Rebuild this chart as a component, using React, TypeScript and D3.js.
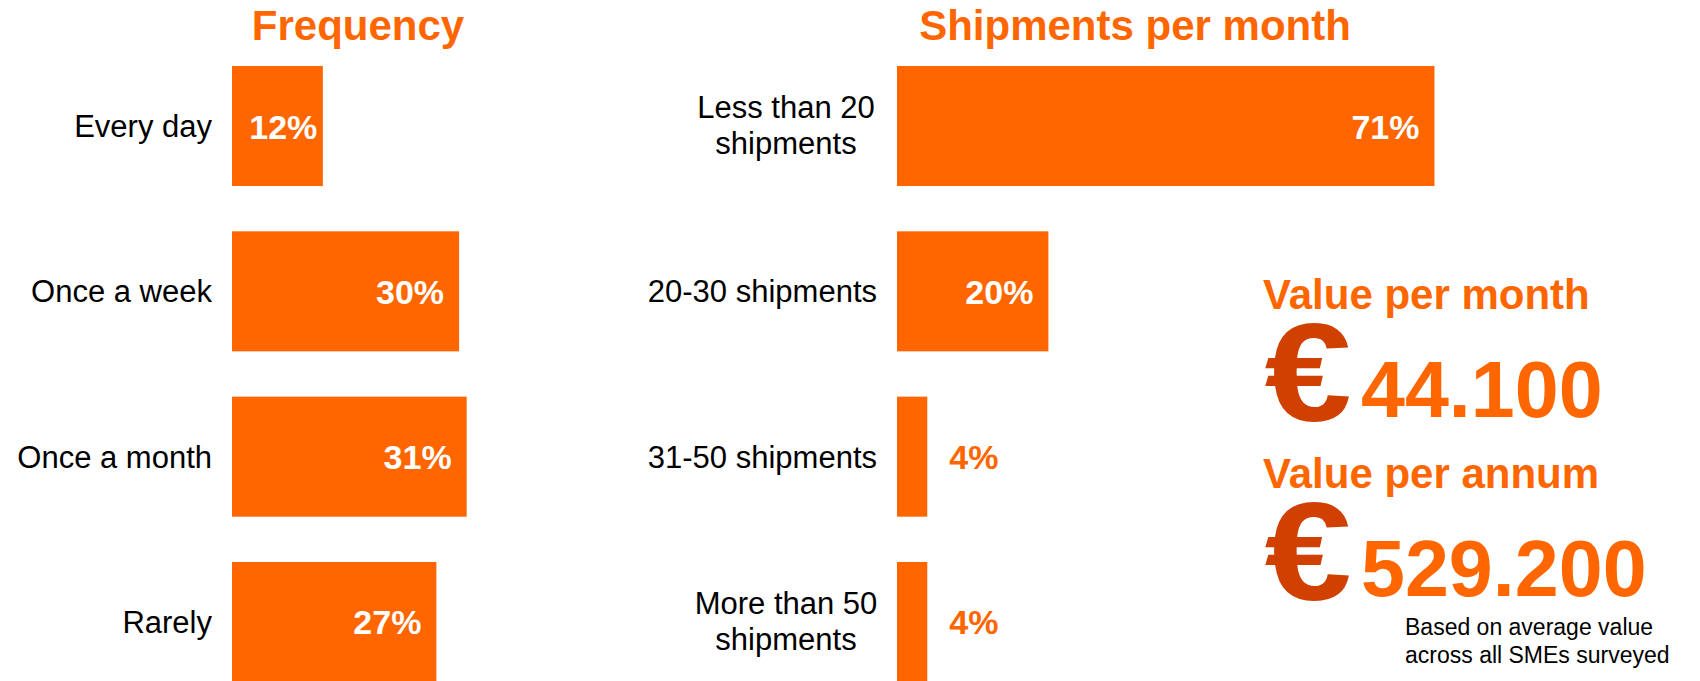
import React from "react";
import * as d3 from "d3";

const freqCategories = ["Every day", "Once a week", "Once a month", "Rarely"];
const freqValues = [12, 30, 31, 27];
const shipCategories = [
  ["Less than 20", "shipments"],
  ["20-30 shipments"],
  ["31-50 shipments"],
  ["More than 50", "shipments"],
];
const shipValues = [71, 20, 4, 4];
const titles = ["Frequency", "Shipments per month"];
const valueTitles = ["Value per month", "Value per annum"];
const valueAmounts = ["44.100", "529.200"];
const footnote = ["Based on average value", "across all SMEs surveyed"];

const W = 1700;
const H = 681;
const ORANGE = "#FF6600";
const DARK = "#D04000";
const FONT = "'Liberation Sans', Arial, Helvetica, sans-serif";

const PX_PER_PCT = 7.57;

function BarPanel({ x0, labels, values }: { x0: number; labels: string[][]; values: number[] }) {
  const keys = labels.map((l) => l.join(" "));
  const y = d3.scaleBand<string>().domain(keys).range([66, 682]).paddingInner(0.274).paddingOuter(0);
  const x = d3.scaleLinear().domain([0, 100]).range([x0, x0 + 100 * PX_PER_PCT]);
  const lh = 35.5;
  return (
    <g>
      {keys.map((k, i) => {
        const v = values[i];
        const top = y(k)!;
        const bw = y.bandwidth();
        const cy = top + bw / 2;
        const xe = x(v);
        const barW = xe - x(0);
        const lines = labels[i];
        const inside = v >= 10;
        const small = barW < 100;
        return (
          <g key={k}>
            <rect x={x(0)} y={top} width={barW} height={bw} fill={ORANGE} />
            {lines.length === 1 ? (
              <text x={x0 - 20} y={cy + 11} textAnchor="end" fontSize={31} fill="#000">
                {lines[0]}
              </text>
            ) : (
              <text x={0} y={0} fontSize={31} fill="#000" textAnchor="middle">
                {lines.map((ln, j) => (
                  <tspan key={j} x={x0 - 20 - 91} y={cy + 10 + (j - (lines.length - 1) / 2) * lh}>
                    {ln}
                  </tspan>
                ))}
              </text>
            )}
            {inside ? (
              <text
                x={small ? xe - 5.5 : xe - 15}
                y={cy + 12.5}
                textAnchor="end"
                fontSize={34}
                fontWeight="bold"
                fill="#fff"
              >
                {v}%
              </text>
            ) : (
              <text x={xe + 22} y={cy + 12.5} textAnchor="start" fontSize={34} fontWeight="bold" fill={ORANGE}>
                {v}%
              </text>
            )}
          </g>
        );
      })}
    </g>
  );
}

export default function App() {
  return (
    <svg
      width={W}
      height={H}
      style={{ position: "absolute", left: 0, top: 0, display: "block", background: "#fff" }}
      fontFamily={FONT}
    >
      <text x={358} y={40} textAnchor="middle" fontSize={42} fontWeight="bold" fill={ORANGE}>
        {titles[0]}
      </text>
      <text x={1135} y={40} textAnchor="middle" fontSize={42} fontWeight="bold" fill={ORANGE}>
        {titles[1]}
      </text>
      <BarPanel x0={232} labels={freqCategories.map((c) => [c])} values={freqValues} />
      <BarPanel x0={897} labels={shipCategories} values={shipValues} />

      {valueTitles.map((t, i) => {
        const base = i === 0 ? 309 : 488;
        return (
          <g key={t}>
            <text x={1263} y={base} fontSize={42} fontWeight="bold" fill={ORANGE}>
              {t}
            </text>
            <text
              transform={`translate(1264.5,${base + 112}) scale(1.12,1)`}
              fontSize={140}
              fontWeight="bold"
              fill={DARK}
            >
              €
            </text>
            <text x={1361} y={base + 108} fontSize={79} fontWeight="bold" fill={ORANGE}>
              {valueAmounts[i]}
            </text>
          </g>
        );
      })}
      <text fontSize={23} fill="#000">
        {footnote.map((f, j) => (
          <tspan key={j} x={1405} y={635 + j * 27.5}>
            {f}
          </tspan>
        ))}
      </text>
    </svg>
  );
}
